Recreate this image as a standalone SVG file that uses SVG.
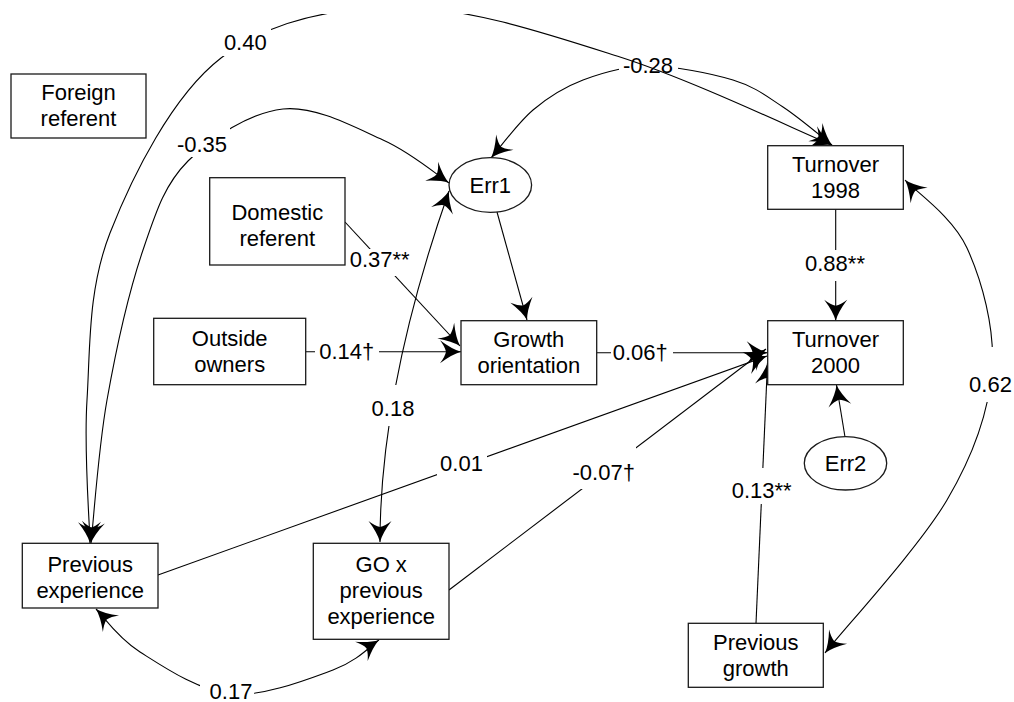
<svg xmlns="http://www.w3.org/2000/svg" width="1014" height="702" viewBox="0 0 1014 702">
  <style>
    .box{fill:#fff;stroke:#1a1a1a;stroke-width:1.3}
    .t{font-family:"Liberation Sans",Arial,sans-serif;font-size:22px;fill:#000;text-anchor:middle}
    .c{fill:none;stroke:#000;stroke-width:1.1;marker-end:url(#ah)}
    .both{marker-start:url(#ah)}
    .bg{fill:#fff}
  </style>
  <defs>
    <!-- swept, concave arrowhead; tip at origin -->
    <marker id="ah" markerUnits="userSpaceOnUse" viewBox="-22 -12 24 24" refX="0" refY="0" markerWidth="24" markerHeight="24" orient="auto-start-reverse">
      <path d="M0,0 Q-9,-2.5 -21,-11.5 Q-16,-5 -15,0 Q-16,5 -21,11.5 Q-9,2.5 0,0 Z" fill="#000"/>
    </marker>
    <clipPath id="frame">
      <rect x="0" y="14" width="1014" height="688"/>
    </clipPath>
  </defs>

  <g id="connectors">
    <!-- Domestic referent -> Growth orientation -->
    <path class="c" d="M345,222 L460,346"/>
    <rect class="bg" x="347" y="249" width="65" height="27"/>
    <text class="t" x="379.7" y="267.3">0.37**</text>

    <!-- Outside owners -> Growth orientation -->
    <path class="c" d="M305.7,351.7 L461,351.7"/>
    <rect class="bg" x="315" y="338" width="64" height="25"/>
    <text class="t" x="346.7" y="359">0.14†</text>

    <!-- Err1 -> Growth orientation -->
    <path class="c" d="M497,212 L527,320"/>

    <!-- Growth orientation -> Turnover 2000 -->
    <path class="c" d="M596.7,352.7 L767.7,352.7"/>
    <rect class="bg" x="611" y="339" width="62" height="25"/>
    <text class="t" x="640.3" y="360">0.06†</text>

    <!-- Turnover 1998 -> Turnover 2000 -->
    <path class="c" d="M835.7,209.3 L835.7,320.7"/>
    <rect class="bg" x="802" y="250" width="66" height="31"/>
    <text class="t" x="835" y="270.7">0.88**</text>

    <!-- Previous experience -> Turnover 2000 -->
    <path class="c" d="M158,575 L767,356"/>
    <rect class="bg" x="437" y="452" width="50" height="24"/>
    <text class="t" x="461.5" y="471">0.01</text>

    <!-- GO x previous experience -> Turnover 2000 -->
    <path class="c" d="M449,590 L766,349"/>
    <rect class="bg" x="571" y="446" width="65" height="43"/>
    <text class="t" x="603.7" y="480">-0.07†</text>

    <!-- Previous growth -> Turnover 2000 -->
    <path class="c" d="M756,623.3 L767.5,363"/>
    <rect class="bg" x="729" y="468" width="66" height="36"/>
    <text class="t" x="761.7" y="498">0.13**</text>

    <!-- Err2 -> Turnover 2000 -->
    <path class="c" d="M845,437 L836.5,385"/>

    <!-- Err1 <-> GO x previous experience -->
    <path class="c both" d="M449,191 Q380,388 380,542"/>
    <rect class="bg" x="370" y="385" width="46" height="41"/>
    <text class="t" x="393" y="415.7">0.18</text>

    <!-- Previous experience <-> GO x previous experience -->
    <path class="c both" d="M96,609 C103.3,616.2 117.5,637.8 140,652 C162.5,666.2 198.8,691 231,694 C263.2,697 308.3,679 333,670 C357.7,661 371.3,645 379,640"/>
    <rect class="bg" x="200" y="678" width="54" height="24"/>
    <text class="t" x="231" y="699">0.17</text>

    <!-- Turnover 1998 <-> Previous growth -->
    <path class="c both" d="M905,180 C915.3,191.3 952.5,216.3 967,248 C981.5,279.7 995.3,328 992,370 C988.7,412 974.8,452.8 947,500 C919.2,547.2 845.3,627.5 825,653"/>
    <rect class="bg" x="966" y="347" width="48" height="55"/>
    <text class="t" x="990.5" y="391.7">0.62</text>

    <!-- Previous experience <-> Err1 -->
    <path class="c both" d="M91,543 C93.7,519.2 98.3,448.8 107,400 C115.7,351.2 129.5,289.8 143,250 C156.5,210.2 164.7,184.5 188,161 C211.3,137.5 250.5,112.5 283,109 C315.5,105.5 355.5,127.8 383,140 C410.5,152.2 437.2,175 449,183"/>
    <rect class="bg" x="173" y="124" width="57" height="33"/>
    <text class="t" x="202" y="152">-0.35</text>

    <!-- Err1 <-> Turnover 1998 -->
    <path class="c both" d="M491,158 C498,150 517.7,123 533,110 C548.3,97 563.7,87.3 583,80 C602.3,72.7 624,66 649,66 C674,66 710.7,73.2 733,80 C755.3,86.8 766.5,96.2 783,107 C799.5,117.8 823.8,138.7 832,145"/>
    <rect class="bg" x="619" y="54" width="59" height="23"/>
    <text class="t" x="648" y="73.3">-0.28</text>

    <!-- Previous experience <-> Turnover 1998 -->
    <path class="c both" clip-path="url(#frame)" d="M90,543 C89.5,519.2 83.7,451.7 87,400 C90.3,348.3 87.7,290 110,233 C132.3,176 172.3,95.6 221,58 C269.7,20.4 334.3,7.2 402,7.5 C468.5,7.3 548.3,34.1 620,57 C691.7,79.9 796.7,130.3 832,145"/>
    <rect class="bg" x="221" y="29" width="50" height="27"/>
    <text class="t" x="245.3" y="50">0.40</text>
  </g>

  <g id="foreign-referent">
    <rect class="box" x="11" y="74" width="135" height="64"/>
    <text class="t" x="78.5" y="100">Foreign</text>
    <text class="t" x="78.5" y="126">referent</text>
  </g>
  <g id="domestic-referent">
    <rect class="box" x="209.7" y="177.7" width="135.3" height="87.3"/>
    <text class="t" x="277.3" y="220">Domestic</text>
    <text class="t" x="277.3" y="246">referent</text>
  </g>
  <g id="outside-owners">
    <rect class="box" x="153.7" y="318.3" width="152" height="66.4"/>
    <text class="t" x="229.7" y="345.5">Outside</text>
    <text class="t" x="229.7" y="371.5">owners</text>
  </g>
  <g id="err1">
    <ellipse class="box" cx="490.3" cy="185" rx="41.3" ry="27.3"/>
    <text class="t" x="490.3" y="193">Err1</text>
  </g>
  <g id="growth-orientation">
    <rect class="box" x="461" y="320.7" width="135.7" height="64"/>
    <text class="t" x="528.8" y="346.7">Growth</text>
    <text class="t" x="528.8" y="372.7">orientation</text>
  </g>
  <g id="turnover-1998">
    <rect class="box" x="767.7" y="145.7" width="135.6" height="63.6"/>
    <text class="t" x="835.5" y="171.7">Turnover</text>
    <text class="t" x="835.5" y="197.7">1998</text>
  </g>
  <g id="turnover-2000">
    <rect class="box" x="767.7" y="320.7" width="135.6" height="64"/>
    <text class="t" x="835.5" y="346.7">Turnover</text>
    <text class="t" x="835.5" y="372.7">2000</text>
  </g>
  <g id="err2">
    <ellipse class="box" cx="845.5" cy="463.3" rx="41.2" ry="26.7"/>
    <text class="t" x="845.5" y="471">Err2</text>
  </g>
  <g id="previous-experience">
    <rect class="box" x="22.3" y="543.3" width="135.7" height="64.7"/>
    <text class="t" x="90.2" y="571.7">Previous</text>
    <text class="t" x="90.2" y="597.7">experience</text>
  </g>
  <g id="go-x-previous-experience">
    <rect class="box" x="313.3" y="543.3" width="135.7" height="96"/>
    <text class="t" x="381.2" y="571.8">GO x</text>
    <text class="t" x="381.2" y="597.8">previous</text>
    <text class="t" x="381.2" y="623.8">experience</text>
  </g>
  <g id="previous-growth">
    <rect class="box" x="688.3" y="623.3" width="135" height="64"/>
    <text class="t" x="755.8" y="649.5">Previous</text>
    <text class="t" x="755.8" y="675.5">growth</text>
  </g>
</svg>
